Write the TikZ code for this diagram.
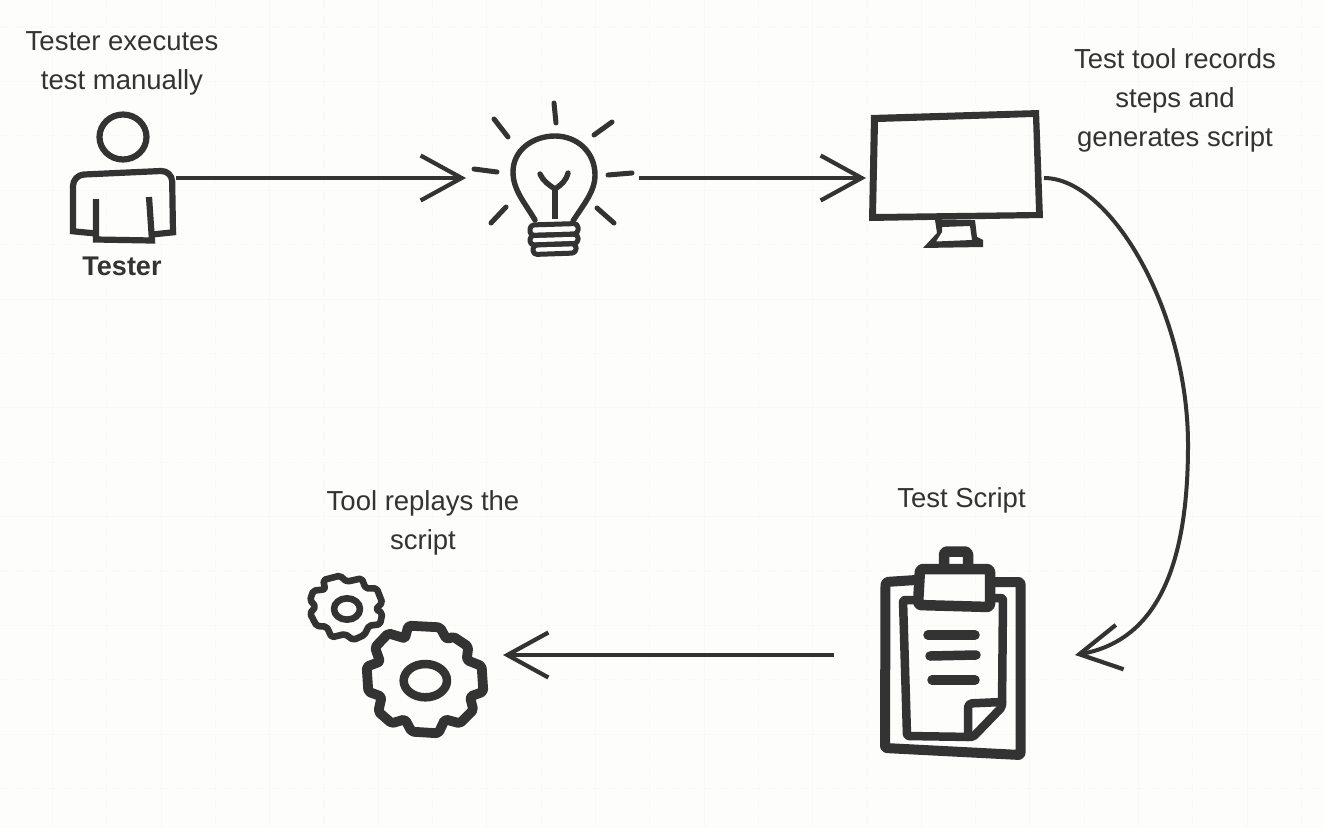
\documentclass[tikz,border=0pt]{standalone}
\usepackage{fontspec}
\setmainfont{Liberation Sans}
\usetikzlibrary{arrows.meta}
\definecolor{ink}{HTML}{333333}
\definecolor{paperbg}{HTML}{FDFDFC}
\definecolor{gridc}{HTML}{F9F9F7}
\tikzset{
  iconbox/.style={inner sep=0pt,outer sep=0pt,draw=none,fill=none},
  label/.style={text=ink,align=center,inner sep=0pt,font=\fontsize{27.5}{39}\selectfont},
  boldlabel/.style={text=ink,inner sep=0pt,font=\fontsize{27}{39}\selectfont\bfseries},
  conn/.style={draw=ink,line width=4pt,-{Straight Barb[length=41pt,width=45pt,line width=4.2pt]}},
  icon/.style={draw=ink,line join=round,line cap=round,fill=none},
  solid ink/.style={fill=ink,draw=none,even odd rule},
  gridsolid/.style={draw=gridc,line width=1pt},
  griddash/.style={draw=gridc,line width=1.2pt,dash pattern=on 8pt off 8pt}
}
\begin{document}
\begin{tikzpicture}[x=1pt,y=-1pt]
\useasboundingbox (0,0) rectangle (1324,828);
\fill[paperbg] (0,0) rectangle (1324,828);
% background grid
\foreach \k in {0,...,24}{
  \pgfmathsetmacro{\gx}{52.5+54.3*\k}
  \ifodd\k\relax\draw[griddash] (\gx,0) -- (\gx,828);\else\draw[gridsolid] (\gx,0) -- (\gx,828);\fi
}
\foreach \k in {0,...,15}{
  \pgfmathsetmacro{\gy}{27+54.4*\k}
  \ifodd\k\relax\draw[gridsolid] (0,\gy) -- (1324,\gy);\else\draw[griddash] (0,\gy) -- (1324,\gy);\fi
}
% icon anchors
\node[iconbox,minimum width=106pt,minimum height=130pt] (person) at (123,178) {};
\node[iconbox,minimum width=173pt,minimum height=156pt] (bulb) at (552.5,178) {};
\node[iconbox,minimum width=178pt,minimum height=140pt] (monitor) at (955,178) {};
\node[iconbox,minimum width=241pt,minimum height=216pt] (clip) at (954.5,655) {};
\node[iconbox,minimum width=198pt,minimum height=170pt] (gears) at (404,655) {};
% person
\draw[icon,line width=6.2pt] (123,137) ellipse [x radius=23.5,y radius=22.5];
\draw[icon,line width=6.2pt,rounded corners=11pt,line cap=butt] (73,231) -- (73,175) -- (172,170.5) -- (173,233);
\draw[icon,line width=6.2pt,line cap=butt,line join=miter] (70,231) -- (96,233.5);
\draw[icon,line width=6.2pt,line cap=butt,line join=miter] (176,232) -- (152,234.5);
\draw[icon,line width=6.2pt,line cap=butt,line join=miter] (96,199) -- (96,239.5) -- (152,240.5) -- (149,197);
% bulb
\draw[icon,line width=5.4pt]
  (535,220) .. controls (525,203) and (513,190) .. (513,172)
  .. controls (513,150) and (533,136) .. (555,136)
  .. controls (577,136) and (595,152) .. (595,175)
  .. controls (595,192) and (583,205) .. (573,221);
\draw[icon,line width=5.4pt,line cap=butt] (555,219) -- (555,188);
\draw[icon,line width=5.4pt] (540,174) .. controls (543,181) and (549,185) .. (555,189) .. controls (561,185) and (566,181) .. (568,173);
\draw[icon,line width=5pt,rounded corners=4pt] (530,225) -- (578,223.5) -- (578,234) -- (530,235.5) -- cycle;
\draw[icon,line width=5pt,rounded corners=4pt] (530,235.5) -- (578,234) -- (578,243.5) -- (530,245) -- cycle;
\draw[icon,line width=5pt,rounded corners=4pt] (533,245) -- (576,243.5) -- (576,253) -- (533,254.5) -- cycle;
\foreach \a/\b/\c/\d in {554/103/556/123,494/119/508/137,612/122/594/135,474/169/497/172,608/175/632/173,506/207/491/223,597/208/614/223}{
  \draw[icon,line width=5pt] (\a,\b) -- (\c,\d);
}
% monitor
\fill[solid ink] (871,115) -- (1039,110) -- (1043,218) -- (869,221) -- cycle
  (878,122) -- (1033,117) -- (1036,212) -- (876,214) -- cycle;
\fill[solid ink] (935,220) -- (937,233) -- (923,248) -- (983,247) -- (983,240) -- (977,237) -- (975,220) -- cycle
  (942,227) -- (970,226) -- (972,240) -- (936,241.5) -- (942,232) -- cycle;
% clipboard
\draw[icon,line width=10pt,rounded corners=2pt] (916,580) -- (885.5,582) -- (885,748) -- (1020.5,755) -- (1020.5,582) -- (993,582);
\draw[icon,line width=8.5pt,rounded corners=2pt] (913,600) -- (903,600) -- (907,736) -- (973,737) -- (1002,707) -- (1003,598) -- (993,598);
\draw[icon,line width=8.5pt,rounded corners=4pt] (968,737) -- (968,703.5) -- (1002,702);
\draw[icon,line width=10.5pt,rounded corners=3pt] (920,569) -- (990,569) -- (990,607) -- (918,605) -- cycle;
\draw[icon,line width=10.5pt,rounded corners=3pt] (944,565) -- (944,551.5) -- (968,551.5) -- (968,565);
\draw[icon,line width=9.5pt] (928,635) -- (975,635);
\draw[icon,line width=9.5pt] (930,656) -- (976,655);
\draw[icon,line width=9.5pt] (932,680) -- (975,680);
% gears
\begin{scope}[shift={(295,560)},x=0.3333pt,y=-0.3333pt]
\draw[icon,line width=9.8pt,rounded corners=2pt,line join=round]
  (340,197) -- (435,202) -- (455,238) -- (475,230) -- (520,260) -- (515,300) -- (560,318) -- (565,395)
  -- (525,410) -- (535,450) -- (495,490) -- (450,478) -- (430,520) -- (350,515) -- (330,478) -- (290,490)
  -- (250,455) -- (260,410) -- (220,395) -- (215,320) -- (255,305) -- (240,262) -- (280,220) -- (330,235) -- cycle;
\draw[icon,line width=8.5pt] (391,362) ellipse [x radius=65,y radius=50];
\draw[icon,line width=6.6pt,rounded corners=2pt,line join=round]
  (85,60) -- (135,47) -- (155,65) -- (200,55) -- (212,85) -- (245,85) -- (262,128) -- (243,147) -- (262,160)
  -- (255,193) -- (222,197) -- (208,225) -- (175,240) -- (150,222) -- (110,232) -- (95,200) -- (65,198)
  -- (45,160) -- (62,140) -- (45,120) -- (55,92) -- (90,88) -- cycle;
\draw[icon,line width=6.6pt] (156,147) ellipse [x radius=39,y radius=32];
\end{scope}
% labels
\node[label] (lblexec) at (122,63.5) {Tester executes\\test manually};
\node[boldlabel,anchor=base] (lbltester) at (122,275) {Tester};
\node[label] (lblrec) at (1175,100) {Test tool records\\steps and\\generates script};
\node[label,anchor=base] (lblscript) at (961.5,507) {Test Script};
\node[label] (lblreplay) at (423,522.5) {Tool replays the\\script};
% connectors
\draw[conn] (person.east) -- (bulb.west);
\draw[conn] (bulb.east) -- (monitor.west);
\draw[conn] (monitor.east) .. controls (1110,178) and (1188,310) .. (1188,445) .. controls (1188,560) and (1160,640) .. (clip.east);
\draw[conn] (clip.west) -- (gears.east);
\end{tikzpicture}
\end{document}
